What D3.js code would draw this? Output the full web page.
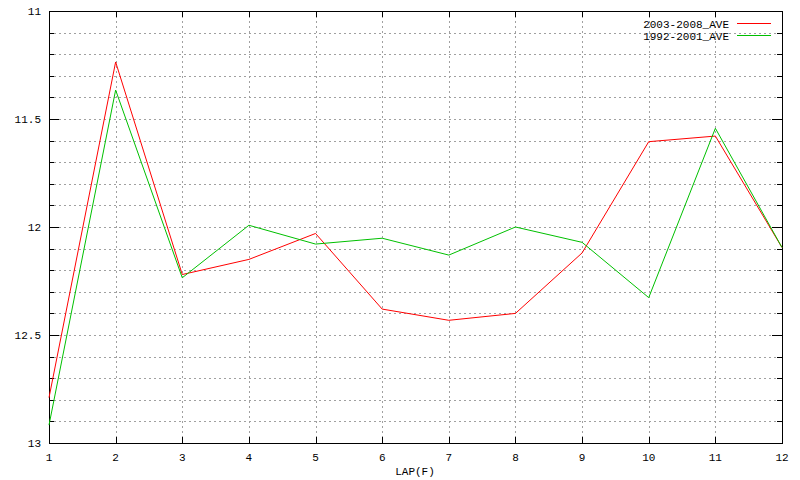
<!DOCTYPE html>
<html>
<head>
<meta charset="utf-8">
<script src="https://cdn.jsdelivr.net/npm/d3@7"></script>
<style>
  html, body { margin: 0; padding: 0; background: #fff; }
  svg { display: block; }
  text { font-family: "Liberation Mono", "DejaVu Sans Mono", monospace; font-size: 11px; fill: #000; }
</style>
</head>
<body>
<svg id="chart" width="800" height="480"></svg>
<script>
const laps = [1, 2, 3, 4, 5, 6, 7, 8, 9, 10, 11, 12];
const ave2003_2008 = [12.79, 11.236, 12.22, 12.15, 12.03, 12.38, 12.432, 12.40, 12.12, 11.605, 11.579, 12.095];
const ave1992_2001 = [12.917, 11.366, 12.235, 11.992, 12.079, 12.052, 12.13, 12.0, 12.071, 12.327, 11.543, 12.095];
const seriesNames = ["2003-2008_AVE", "1992-2001_AVE"];
const seriesColors = ["#ff0000", "#00c000"];
const yMajorTicks = [11, 11.5, 12, 12.5, 13];
const yMinorTicks = d3.range(0, 21).map(i => 11 + i * 0.1);
const xLabel = "LAP(F)";

const svg = d3.select("#chart");
const L = 49, R = 782, T = 11, B = 443;

const x = d3.scaleLinear().domain([1, 12]).range([L, R]);
const y = d3.scaleLinear().domain([11, 13]).range([T, B]);

const g = svg.append("g");

// grid
g.append("g").selectAll("line").data(yMinorTicks.slice(1, -1)).join("line")
  .attr("x1", L).attr("x2", R)
  .attr("y1", d => Math.round(y(d)) + 0.5).attr("y2", d => Math.round(y(d)) + 0.5)
  .attr("stroke", "#a0a0a0").attr("stroke-dasharray", "2,3")
  .attr("shape-rendering", "crispEdges");
g.append("g").selectAll("line").data(laps.slice(1, -1)).join("line")
  .attr("y1", T).attr("y2", B)
  .attr("x1", d => Math.round(x(d)) + 0.5).attr("x2", d => Math.round(x(d)) + 0.5)
  .attr("stroke", "#a0a0a0").attr("stroke-dasharray", "2,3")
  .attr("shape-rendering", "crispEdges");

// ticks (inward, mirrored)
const isMajor = v => yMajorTicks.some(m => Math.abs(m - v) < 1e-6);
const tk = g.append("g").attr("stroke", "#000").attr("shape-rendering", "crispEdges");
yMinorTicks.forEach(v => {
  const len = isMajor(v) ? 10 : 5;
  const yy = Math.round(y(v)) + 0.5;
  tk.append("line").attr("x1", L).attr("x2", L + len).attr("y1", yy).attr("y2", yy);
  tk.append("line").attr("x1", R - len).attr("x2", R).attr("y1", yy).attr("y2", yy);
});
laps.forEach(v => {
  const xx = Math.round(x(v)) + 0.5;
  tk.append("line").attr("x1", xx).attr("x2", xx).attr("y1", B).attr("y2", B - 6);
  tk.append("line").attr("x1", xx).attr("x2", xx).attr("y1", T).attr("y2", T + 6);
});

// border
g.append("rect").attr("x", L + 0.5).attr("y", T + 0.5).attr("width", R - L).attr("height", B - T)
  .attr("fill", "none").attr("stroke", "#000").attr("shape-rendering", "crispEdges");

// y labels
g.append("g").selectAll("text").data(yMajorTicks).join("text")
  .attr("x", 41).attr("y", d => y(d)).attr("dy", "0.35em").attr("text-anchor", "end")
  .text(d => d3.format("")(d));

// x labels
g.append("g").selectAll("text").data(laps).join("text")
  .attr("x", d => x(d)).attr("y", 457).attr("dy", "0.35em").attr("text-anchor", "middle")
  .text(d => d);

g.append("text").attr("x", 415).attr("y", 471).attr("dy", "0.35em").attr("text-anchor", "middle").text(xLabel);

// lines
const line = d3.line().x((d, i) => x(laps[i])).y(d => y(d));
[ave2003_2008, ave1992_2001].forEach((s, i) => {
  g.append("path").datum(s).attr("d", line)
    .attr("fill", "none").attr("stroke", seriesColors[i]).attr("stroke-width", 1);
});

// legend
seriesNames.forEach((n, i) => {
  const yy = 24 + i * 12;
  g.append("text").attr("x", 729).attr("y", yy).attr("dy", "0.35em").attr("text-anchor", "end").text(n);
  g.append("line").attr("x1", 737).attr("x2", 771).attr("y1", yy - 0.5).attr("y2", yy - 0.5)
    .attr("stroke", seriesColors[i]).attr("shape-rendering", "crispEdges");
});
</script>
</body>
</html>
